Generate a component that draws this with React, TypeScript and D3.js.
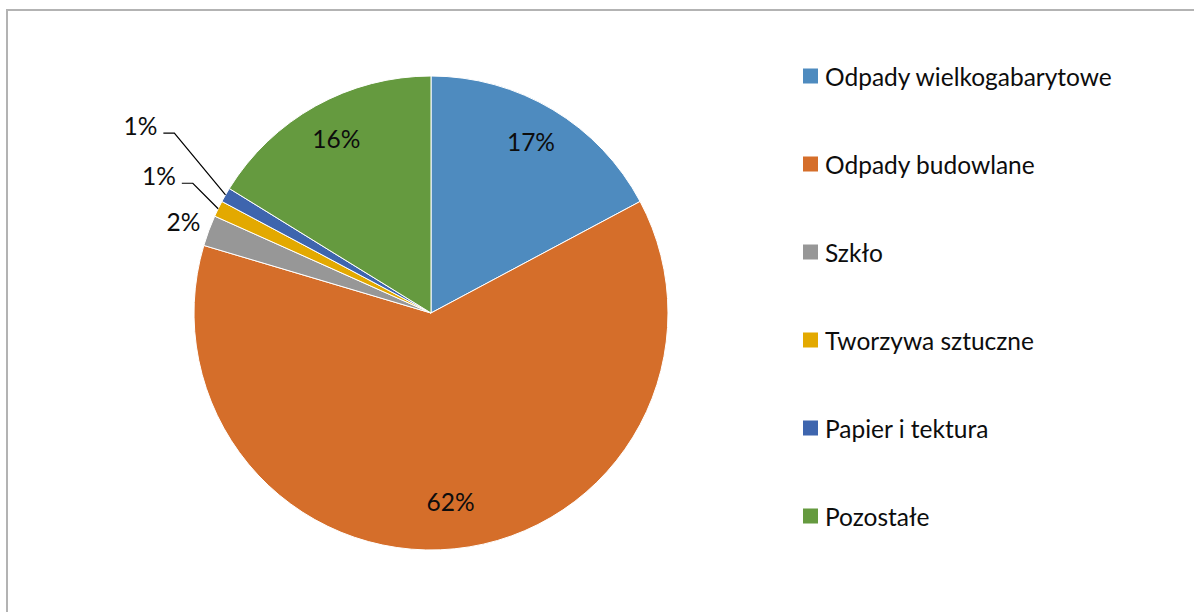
import React, { useEffect, useRef } from "react";
import * as d3 from "d3";

// dane z wykresu (udział w %)
const categories = [
  "Odpady wielkogabarytowe",
  "Odpady budowlane",
  "Szkło",
  "Tworzywa sztuczne",
  "Papier i tektura",
  "Pozostałe",
];
const shares = [17.2, 62.4, 2.1, 1.1, 1.0, 16.2];
const colors = ["#4e8bbf", "#d56e2a", "#979797", "#e3a900", "#3e65ae", "#659a3f"];

const FONT = "Lato, 'Open Sans', sans-serif";

const App = () => {
  const ref = useRef<SVGSVGElement>(null);

  useEffect(() => {
    const width = 1194;
    const height = 612;
    const cx = 431;
    const cy = 313;
    const r = 237;

    const svg = d3.select(ref.current);
    svg.selectAll("*").remove();
    svg.attr("width", width).attr("height", height);

    // ramka obszaru wykresu
    svg
      .append("rect")
      .attr("x", 7)
      .attr("y", 10)
      .attr("width", 1300)
      .attr("height", 700)
      .attr("fill", "#fff")
      .attr("stroke", "#b3b3b3")
      .attr("stroke-width", 2);

    const data = categories.map((name, i) => ({ name, value: shares[i], color: colors[i] }));
    const total = d3.sum(data, (d) => d.value);

    const pie = d3
      .pie<any>()
      .sort(null)
      .value((d) => d.value);
    const arcs = pie(data);

    const arc = d3.arc<any>().innerRadius(0).outerRadius(r);
    const labelArc = d3.arc<any>().innerRadius(r * 0.82).outerRadius(r * 0.82);

    const g = svg.append("g").attr("transform", `translate(${cx},${cy})`);

    g.selectAll("path")
      .data(arcs)
      .enter()
      .append("path")
      .attr("d", arc)
      .attr("fill", (d) => d.data.color)
      .attr("stroke", "#fff")
      .attr("stroke-width", 1);

    // etykiety procentowe
    let k = 0;
    arcs.forEach((d) => {
      const pct = Math.round((d.data.value / total) * 100) + "%";
      const mid = (d.startAngle + d.endAngle) / 2;
      if (d.data.value / total >= 0.05) {
        const [x, y] = labelArc.centroid(d);
        g.append("text")
          .attr("x", x)
          .attr("y", y - 5)
          .attr("text-anchor", "middle")
          .attr("dominant-baseline", "central")
          .attr("font-family", FONT)
          .attr("font-size", 24.5)
          .attr("fill", "#0d0d0d")
          .text(pct);
        k = 0;
        return;
      }
      // małe wycinki: etykiety na zewnątrz, kolejne odsuwane dalej
      const rad = r + 27 + k * 41;
      const ang = mid + ((k * k * 0.75) * Math.PI) / 180;
      const lx = rad * Math.sin(ang);
      const ly = -rad * Math.cos(ang);
      const t = g
        .append("text")
        .attr("x", lx)
        .attr("y", ly)
        .attr("text-anchor", "middle")
        .attr("dominant-baseline", "central")
        .attr("font-family", FONT)
        .attr("font-size", 24.5)
        .attr("fill", "#0d0d0d")
        .text(pct);
      if (k > 0) {
        const w = (t.node() as SVGTextElement).getComputedTextLength();
        const sx = lx + w / 2 + 6;
        const sy = ly + 8;
        g.append("polyline")
          .attr(
            "points",
            [
              [sx, sy],
              [sx + 11, sy],
              [r * Math.sin(mid), -r * Math.cos(mid)],
            ]
              .map((p) => p.join(","))
              .join(" ")
          )
          .attr("fill", "none")
          .attr("stroke", "#000")
          .attr("stroke-width", 1.2);
      }
      k += 1;
    });

    // legenda
    const legend = svg
      .selectAll("g.legend")
      .data(data)
      .enter()
      .append("g")
      .attr("class", "legend")
      .attr("transform", (d, i) => `translate(803, ${76 + i * 88})`);

    legend
      .append("rect")
      .attr("x", 0)
      .attr("y", -7.5)
      .attr("width", 15)
      .attr("height", 15)
      .attr("fill", (d) => d.color);

    legend
      .append("text")
      .attr("x", 22)
      .attr("y", 0)
      .attr("dominant-baseline", "central")
      .attr("font-family", FONT)
      .attr("font-size", 24.5)
      .attr("fill", "#0d0d0d")
      .text((d) => d.name);
  }, []);

  return (
    <svg ref={ref} style={{ position: "absolute", left: 0, top: 0 }} />
  );
};

export default App;
